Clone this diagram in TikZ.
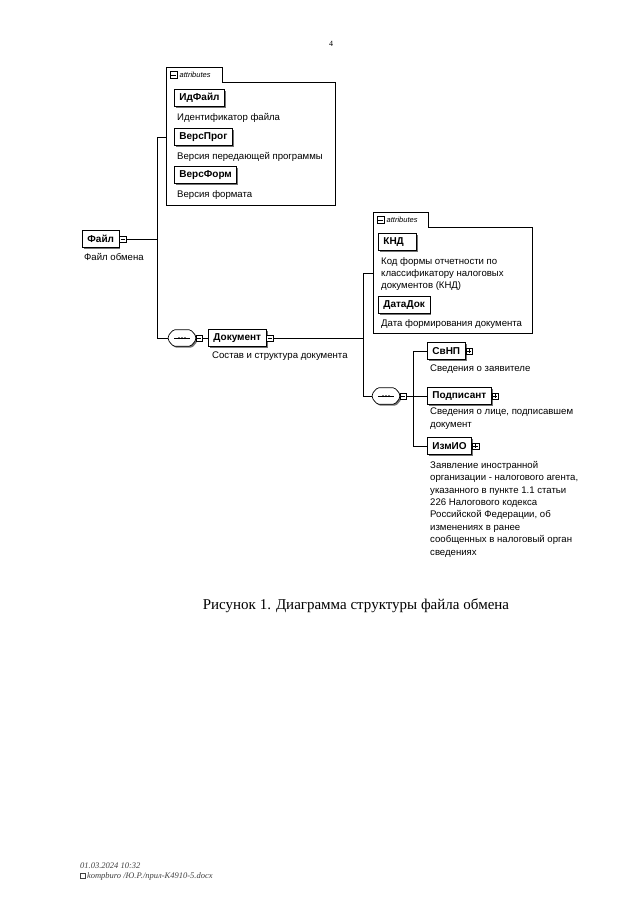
\documentclass[tikz,border=0pt]{standalone}
\usepackage{fontspec}
\setmainfont{Liberation Serif}
\setsansfont{Liberation Sans}
\usetikzlibrary{shadows,calc}
\tikzset{
  elem/.style={draw, line width=0.8pt, fill=white,
    font=\sffamily\bfseries\fontsize{10}{11}\selectfont,
    inner xsep=5pt, inner ysep=0pt, minimum height=17pt, anchor=west,
    drop shadow={shadow xshift=1.5pt, shadow yshift=-1.5pt, fill=black!55, opacity=1}},
  desc/.style={font=\sffamily\fontsize{9.6}{12.4}\selectfont, anchor=north west,
    inner sep=0pt, align=left},
  xbox/.style={draw, line width=0.5pt, fill=white, minimum size=6.5pt, inner sep=0pt, anchor=west},
  xminus/.style={xbox, path picture={\draw[line width=0.5pt]
      ($(path picture bounding box.west)+(1pt,0)$) -- ($(path picture bounding box.east)+(-1pt,0)$);}},
  xplus/.style={xbox, path picture={\draw[line width=0.5pt]
      ($(path picture bounding box.west)+(1pt,0)$) -- ($(path picture bounding box.east)+(-1pt,0)$)
      ($(path picture bounding box.north)+(0,-1pt)$) -- ($(path picture bounding box.south)+(0,1pt)$);}},
  seqbox/.style={inner sep=0pt, minimum width=27pt, minimum height=16pt},
  seqline/.style={draw, line width=0.7pt, fill=white, rounded corners=1.5pt,
    drop shadow={shadow xshift=1.5pt, shadow yshift=-1.5pt, fill=black!55, opacity=1}},
  attnode/.style={inner sep=0pt, anchor=north west},
  tabnode/.style={inner sep=0pt, anchor=south west, minimum height=14pt},
  attline/.style={draw, line width=0.6pt},
  tabtxt/.style={font=\sffamily\itshape\fontsize{7.5}{8}\selectfont, inner sep=0pt, anchor=west},
  conn/.style={line width=0.8pt},
}
\newcommand\seqdraw[1]{%
  \path[seqline] ($(#1.west)+(0,2.5pt)$) -- ($(#1.north west)+(5pt,0)$)
    -- ($(#1.north east)+(-5pt,0)$) -- ($(#1.east)+(0,2.5pt)$)
    -- ($(#1.east)+(0,-2.5pt)$) -- ($(#1.south east)+(-5pt,0)$)
    -- ($(#1.south west)+(5pt,0)$) -- ($(#1.west)+(0,-2.5pt)$) -- cycle;
  \draw[line width=0.7pt] ($(#1.center)+(-8pt,0)$) -- ($(#1.center)+(8pt,0)$);
  \fill ($(#1.center)+(-3pt,0)$) circle (1pt) (#1.center) circle (1pt)
        ($(#1.center)+(3pt,0)$) circle (1pt);}
\begin{document}
\begin{tikzpicture}[x=1pt,y=-1pt]
\useasboundingbox[fill=white] (0,0) rectangle (640,919);

\node[font=\fontsize{8}{9}\selectfont] (pg) at (331,44) {4};

% attributes 1
\node[attnode, minimum width=169pt, minimum height=123pt] (att1) at (166,82) {};
\node[tabnode, minimum width=56pt] (att1t) at (att1.north west) {};
\draw[attline] (att1.south west) -- (att1t.north west) -- (att1t.north east)
  -- (att1t.south east) -- (att1.north east) -- (att1.south east) -- cycle;
\node[xminus] (att1m) at ($(att1t.west)+(4pt,0)$) {};
\node[tabtxt] (att1l) at ($(att1m.east)+(2.5pt,0)$) {attributes};

\node[elem] (idf) at (174,98) {ИдФайл};
\node[desc] (idfd) at (177,113) {Идентификатор файла};
\node[elem] (vp) at (174,137) {ВерсПрог};
\node[desc] (vpd) at (177,152) {Версия передающей программы};
\node[elem] (vf) at (174,175) {ВерсФорм};
\node[desc] (vfd) at (177,190) {Версия формата};

% root
\node[elem] (fajl) at (82,239) {Файл};
\node[xminus] (fajlm) at (fajl.east) {};
\node[desc] (fajld) at (84,253) {Файл обмена};

\node[seqbox] (seq1) at (182,338) {};
\seqdraw{seq1}
\node[xminus] (seq1m) at (seq1.east) {};

\coordinate (j1a) at (157,137);
\coordinate (j1b) at (157,338);
\draw[conn] (fajlm.east) -| (j1a) -- (att1.west |- j1a);
\draw[conn] (fajlm.east) -| (j1b) -- (seq1.west);

\node[elem] (doc) at (208,338) {Документ};
\node[xminus] (docm) at (doc.east) {};
\node[desc] (docd) at (212,352) {Состав и структура документа};
\draw[conn] (seq1m.east) -- (doc.west);

% attributes 2
\node[attnode, minimum width=159pt, minimum height=106pt] (att2) at (373,227) {};
\node[tabnode, minimum width=55pt] (att2t) at (att2.north west) {};
\draw[attline] (att2.south west) -- (att2t.north west) -- (att2t.north east)
  -- (att2t.south east) -- (att2.north east) -- (att2.south east) -- cycle;
\node[xminus] (att2m) at ($(att2t.west)+(4pt,0)$) {};
\node[tabtxt] (att2l) at ($(att2m.east)+(2.5pt,0)$) {attributes};

\node[elem, text width=28pt, align=left] (knd) at (378,242) {КНД};
\node[desc] (kndd) at (381,257) {Код формы отчетности по\\классификатору налоговых\\документов (КНД)};
\node[elem] (dd) at (378,305) {ДатаДок};
\node[desc] (ddd) at (381,319) {Дата формирования документа};

\node[seqbox] (seq2) at (386,396) {};
\seqdraw{seq2}
\node[xminus] (seq2m) at (seq2.east) {};

\coordinate (j2a) at (363,273);
\coordinate (j2b) at (363,396);
\draw[conn] (docm.east) -| (j2a) -- (att2.west |- j2a);
\draw[conn] (docm.east) -| (j2b) -- (seq2.west);

\node[elem] (svnp) at (427,351) {СвНП};
\node[xplus] (svnpp) at (svnp.east) {};
\node[desc] (svnpd) at (430,365) {Сведения о заявителе};

\node[elem] (podp) at (427,396) {Подписант};
\node[xplus] (podpp) at (podp.east) {};
\node[desc] (podpd) at (430,408) {Сведения о лице, подписавшем\\документ};

\node[elem] (izm) at (427,446) {ИзмИО};
\node[xplus] (izmp) at (izm.east) {};
\node[desc] (izmd) at (430,461) {Заявление иностранной\\организации - налогового агента,\\указанного в пункте 1.1 статьи\\226 Налогового кодекса\\Российской Федерации, об\\изменениях в ранее\\сообщенных в налоговый орган\\сведениях};

\coordinate (j3) at (413,396);
\draw[conn] (seq2m.east) -- (podp.west);
\draw[conn] (j3) |- (svnp.west);
\draw[conn] (j3) |- (izm.west);

% caption
\node[font=\fontsize{15}{18}\selectfont] (cap) at (356,606) {Рисунок 1. Диаграмма структуры файла обмена};

% footer
\node[font=\itshape\fontsize{8.5}{10}\selectfont, text=black!75, anchor=west, inner sep=0pt] (f1) at (80,866) {01.03.2024 10:32};
\node[draw=black!75, line width=0.4pt, minimum size=5pt, inner sep=0pt, anchor=west] (ficon) at (80,876) {};
\node[font=\itshape\fontsize{8.5}{10}\selectfont, text=black!75, anchor=west, inner sep=0pt] (f2) at (ficon.east) {\,kompburo /Ю.Р./прил-К4910-5.docx};
\end{tikzpicture}
\end{document}
